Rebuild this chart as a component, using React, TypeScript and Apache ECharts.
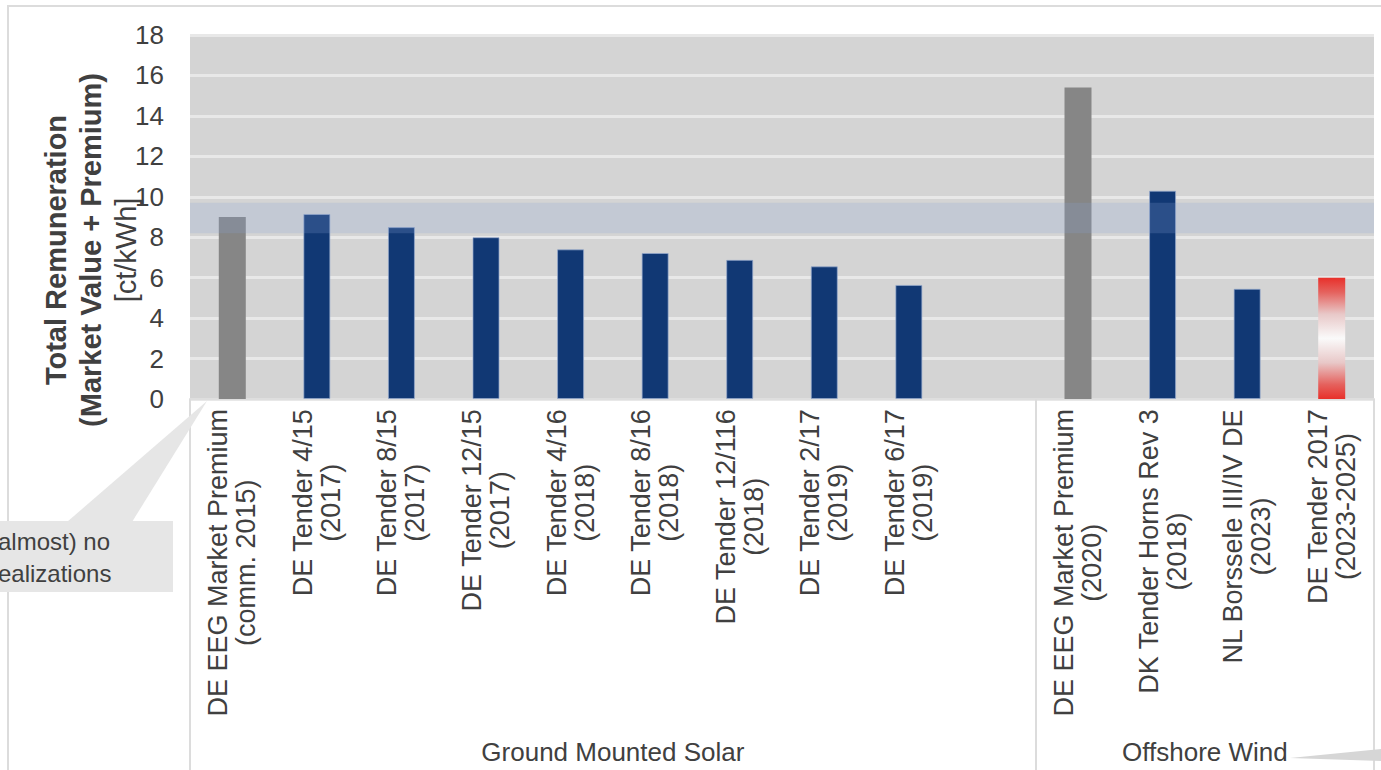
import React, { useEffect, useRef } from "react";
import * as echarts from "echarts";

// ---- data ----
const labelLine1 = [
  "DE EEG Market Premium",
  "DE Tender 4/15",
  "DE Tender 8/15",
  "DE Tender 12/15",
  "DE Tender 4/16",
  "DE Tender 8/16",
  "DE Tender 12/116",
  "DE Tender 2/17",
  "DE Tender 6/17",
  "",
  "DE EEG Market Premium",
  "DK Tender Horns Rev 3",
  "NL Borssele III/IV DE",
  "DE Tender 2017",
];
const labelLine2 = [
  "(comm. 2015)",
  "(2017)",
  "(2017)",
  "(2017)",
  "(2018)",
  "(2018)",
  "(2018)",
  "(2019)",
  "(2019)",
  "",
  "(2020)",
  "(2018)",
  "(2023)",
  "(2023-2025)",
];
const values: (number | null)[] = [9.0, 9.15, 8.5, 8.0, 7.4, 7.22, 6.88, 6.56, 5.64, null, 15.4, 10.3, 5.45, 6.0];
const barKinds = ["market", "tender", "tender", "tender", "tender", "tender", "tender", "tender", "tender", "", "market", "tender", "tender", "range"];
const groupNames = ["Ground Mounted Solar", "Offshore Wind"];
const groupBounds = [0, 10, 14];
const bandRange = [8.2, 9.7];
const yMin = 0;
const yMax = 18;
const yInterval = 2;
const yTitleLines = ["Total Remuneration", "(Market Value + Premium)", "[ct/kWh]"];
const calloutText = ["(almost) no", "realizations"];

const FONT = "'Liberation Sans', Arial, sans-serif";
const TXT = "#404040";
const CAT_FS = 27;
const CAT_MARGIN = 10;

const colorFor = (kind: string) => {
  if (kind === "market") return { color: "#868686" };
  if (kind === "tender") return { color: "#113874", borderColor: "rgba(150,170,205,0.7)", borderWidth: 1 };
  return {
    color: {
      type: "linear",
      x: 0,
      y: 0,
      x2: 0,
      y2: 1,
      colorStops: [
        { offset: 0, color: "#e8302a" },
        { offset: 0.12, color: "#e5625e" },
        { offset: 0.3, color: "#e8c8c8" },
        { offset: 0.5, color: "#fafafa" },
        { offset: 0.7, color: "#e8c8c8" },
        { offset: 0.88, color: "#e5625e" },
        { offset: 1, color: "#e8302a" },
      ],
    },
  };
};

const measure = (() => {
  let ctx: CanvasRenderingContext2D | null = null;
  return (s: string, fs: number) => {
    if (!ctx) ctx = document.createElement("canvas").getContext("2d");
    if (!ctx) return s.length * fs * 0.52;
    ctx.font = `${fs}px 'Liberation Sans', Arial, sans-serif`;
    return ctx.measureText(s).width;
  };
})();

export default function App() {
  const ref = useRef<HTMLDivElement>(null);
  useEffect(() => {
    if (!ref.current) return;
    const chart = echarts.init(ref.current, undefined, { renderer: "svg" });
    const groupMids = groupNames.map((_, i) => (groupBounds[i] + groupBounds[i + 1]) / 2);

    const staticGraphics: any[] = [
      {
        type: "rect",
        z: 0,
        shape: { x: 8, y: 6, width: 1400, height: 800 },
        style: { fill: "none", stroke: "#dcdcdc", lineWidth: 2 },
      },
      {
        type: "text",
        z: 20,
        x: 91,
        y: 250,
        rotation: Math.PI / 2,
        style: {
          text: `{b|${yTitleLines[0]}}\n{b|${yTitleLines[1]}}\n{n|${yTitleLines[2]}}`,
          align: "center",
          verticalAlign: "middle",
          rich: {
            b: { align: "center", fontSize: 29, fontWeight: "bold", lineHeight: 35, fill: TXT, fontFamily: FONT },
            n: { align: "center", fontSize: 29, lineHeight: 35, fill: TXT, fontFamily: FONT },
          },
        },
      },
      {
        type: "polygon",
        z: 20,
        shape: { points: [[67, 522], [132, 522], [207, 401]] },
        style: { fill: "#e6e6e6" },
      },
      {
        type: "rect",
        z: 20,
        shape: { x: 0, y: 521, width: 173, height: 71 },
        style: { fill: "#e6e6e6" },
      },
      {
        type: "text",
        z: 21,
        x: -10,
        y: 557,
        style: {
          text: calloutText.join("\n"),
          fontSize: 24,
          lineHeight: 32,
          fill: TXT,
          fontFamily: FONT,
          align: "left",
          verticalAlign: "middle",
        },
      },
      {
        type: "polygon",
        z: 20,
        shape: { points: [[1290, 758], [1381, 749], [1381, 761]] },
        style: { fill: "#d6d6d6" },
      },
    ];

    chart.setOption({
      animation: false,
      backgroundColor: "#ffffff",
      textStyle: { fontFamily: FONT },
      grid: {
        left: 190,
        right: 7,
        top: 35,
        bottom: 371,
        show: true,
        backgroundColor: "#d4d4d4",
        borderWidth: 0,
      },
      xAxis: [
        {
          type: "category",
          data: labelLine1.map((l, i) => (l ? `${l} ${labelLine2[i]}` : `gap${i}`)),
          axisLine: { show: true, lineStyle: { color: "#dedede", width: 2 } },
          axisTick: { show: false },
          axisLabel: { show: false },
        },
        {
          type: "value",
          min: groupBounds[0],
          max: groupBounds[groupBounds.length - 1],
          position: "bottom",
          axisLine: { show: false },
          splitLine: { show: false },
          axisTick: {
            show: true,
            customValues: groupBounds,
            length: 371,
            lineStyle: { color: "#dcdcdc", width: 2 },
          },
          axisLabel: {
            customValues: groupMids,
            margin: 340,
            color: TXT,
            fontSize: 26,
            fontFamily: FONT,
            formatter: (v: number) => {
              const i = groupMids.indexOf(v);
              return i >= 0 ? groupNames[i] : "";
            },
          },
        },
      ],
      yAxis: {
        type: "value",
        min: yMin,
        max: yMax,
        interval: yInterval,
        axisLine: { show: false },
        axisTick: { show: false },
        axisLabel: { color: TXT, fontSize: 26, fontFamily: FONT, margin: 26 },
        splitLine: { show: true, lineStyle: { color: "#e8e8e8", width: 3 } },
      },
      series: [
        {
          type: "bar",
          xAxisIndex: 0,
          barWidth: 27,
          data: values.map((v, i) =>
            v === null ? "-" : { value: v, itemStyle: colorFor(barKinds[i]) }
          ),
          markArea: {
            silent: true,
            z: 10,
            itemStyle: { color: "rgba(136,164,212,0.22)" },
            data: [[{ yAxis: bandRange[0] }, { yAxis: bandRange[1] }]],
          },
        },
      ],
      graphic: staticGraphics,
    });

    // category labels: rotated two-line texts, lines centred on each other,
    // block starting just below the axis, positioned by the chart's own scales
    const labelGraphics: any[] = [];
    labelLine1.forEach((l1, i) => {
      if (!l1) return;
      const l2 = labelLine2[i];
      const w = Math.max(measure(l1, CAT_FS), measure(l2, CAT_FS));
      const p = chart.convertToPixel({ gridIndex: 0 }, [i, 0]) as number[];
      labelGraphics.push({
        type: "text",
        z: 15,
        x: p[0],
        y: p[1] + CAT_MARGIN + w / 2,
        rotation: Math.PI / 2,
        style: {
          text: `${l1}\n${l2}`,
          align: "center",
          verticalAlign: "middle",
          fontSize: CAT_FS,
          lineHeight: 28,
          fill: TXT,
          fontFamily: FONT,
        },
      });
    });
    chart.setOption({ graphic: [...staticGraphics, ...labelGraphics] });

    return () => chart.dispose();
  }, []);
  return (
    <div
      ref={ref}
      style={{ position: "fixed", left: 0, top: 0, width: 1381, height: 770 }}
    />
  );
}
